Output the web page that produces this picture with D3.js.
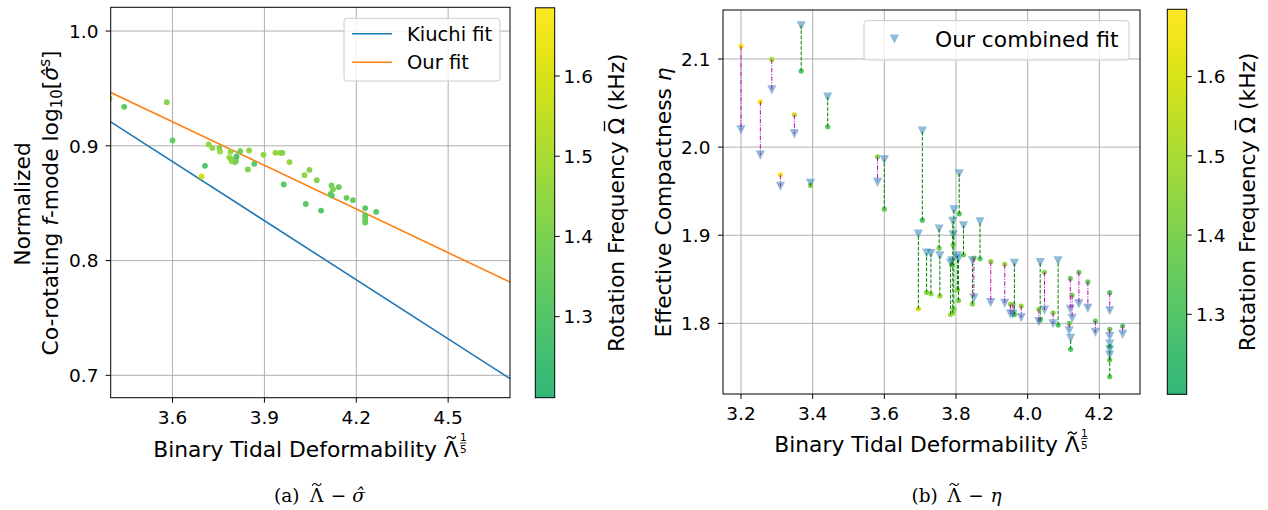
<!DOCTYPE html>
<html><head><meta charset="utf-8">
<script src="https://cdn.jsdelivr.net/npm/d3@7"></script>
<style>
body{margin:0;background:#fff}
svg text{font-family:"DejaVu Sans",sans-serif;fill:#000}
</style></head>
<body>
<svg id="fig" width="1268" height="510"></svg>
<script>
// ---------------- data ----------------
const lambdaX = [3.200,3.254,3.286,3.310,3.349,3.368,3.394,3.442,3.581,3.600,3.695,3.706,3.718,3.730,3.753,3.755,
  3.785,3.789,3.791,3.792,3.794,3.804,3.807,3.809,3.821,3.846,3.850,3.867,3.897,3.936,3.952,3.959,3.963,3.982,
  4.031,4.035,4.047,4.071,4.085,4.116,4.119,4.120,4.124,4.143,4.168,4.189,4.229,4.229,4.229,4.229,4.229,4.265];
const etaMeasured = [2.1146,2.0515,2.0995,1.9686,2.0367,2.0863,1.9565,2.0231,1.989,1.9296,1.8165,1.9171,1.835,1.8335,1.8853,1.831,
  1.810,1.866,1.8115,1.889,1.816,1.838,1.826,1.9243,1.8778,1.822,1.874,1.8733,1.870,1.867,1.8216,1.8216,1.810,1.8196,
  1.816,1.8037,1.858,1.812,1.798,1.800,1.851,1.7705,1.832,1.858,1.847,1.8026,1.8348,1.7932,1.7737,1.7584,1.7394,1.797];
const etaFit = [2.0197,1.991,2.065,1.9554,2.015,2.1377,1.959,2.0568,1.960,1.9856,1.9012,2.0182,1.8797,1.879,1.907,1.8766,
  1.8683,1.871,1.9156,1.9005,1.9288,1.8766,1.873,1.9697,1.9107,1.871,1.8286,1.9153,1.8236,1.8227,1.8105,1.8105,1.868,1.8064,
  1.802,1.8688,1.815,1.7995,1.871,1.7916,1.816,1.783,1.8057,1.822,1.817,1.7898,1.8143,1.785,1.7764,1.770,1.764,1.7875];
const sigmaMeasured = [null,null,null,null,null,null,0.9413,0.934,0.938,0.9047,0.8733,0.8826,0.9012,0.898,0.898,0.895,
  0.890,0.8948,0.888,0.8884,0.8865,0.8858,0.887,0.8907,0.8953,0.8794,0.8959,0.8843,0.8922,0.8939,0.8939,0.8939,0.8663,0.8858,
  0.8744,0.8494,0.879,0.870,0.8436,0.858,0.8654,0.8567,0.8622,0.864,0.8547,0.8526,0.8457,0.8396,0.8375,0.8352,0.8332,0.8425];
const omegaKHz = [1.66,1.66,1.50,1.67,1.56,1.30,1.47,1.33,1.42,1.36,1.58,1.30,1.45,1.45,1.40,1.47,
  1.48,1.45,1.47,1.42,1.45,1.43,1.40,1.30,1.38,1.42,1.45,1.33,1.45,1.45,1.45,1.42,1.32,1.45,
  1.45,1.32,1.42,1.42,1.30,1.38,1.38,1.32,1.40,1.35,1.35,1.35,1.32,1.35,1.35,1.38,1.35,1.32];
const fitLineX = [3.398, 4.702];
const kiuchiFitY = [0.9209, 0.6971];
const ourFitY = [0.9465, 0.7813];
const xTicksA = [3.6, 3.9, 4.2, 4.5];
const yTicksA = [0.7, 0.8, 0.9, 1.0];
const xTicksB = [3.2, 3.4, 3.6, 3.8, 4.0, 4.2];
const yTicksB = [1.8, 1.9, 2.0, 2.1];
const cbarTicks = [1.3, 1.4, 1.5, 1.6];
const omegaRange = [1.199, 1.685];

// ---------------- helpers ----------------
const svg = d3.select("#fig");
const defs = svg.append("defs");
const fmt = d3.format(".1f");
const colorOf = v => d3.interpolateViridis(0.66 + 0.34 * (v - omegaRange[0]) / (omegaRange[1] - omegaRange[0]));
const TICK_FS = 18.5, LABEL_FS = 21.8, GRID = "#b0b0b0";
const tildePath = "M-4.5,1.3C-3.2,-1.6 -1.6,-1.4 0,0S3.2,1.6 4.5,-1.3";

function frame(g, x, y, xt, yt, id, xTickBase, yTickEnd) {
  const [x0, x1] = x.range(), [y0, y1] = y.range();
  defs.append("clipPath").attr("id", id).append("rect")
    .attr("x", x0).attr("y", y1).attr("width", x1 - x0).attr("height", y0 - y1);
  g.append("g").selectAll("line").data(xt).join("line")
    .attr("x1", d => x(d)).attr("x2", d => x(d)).attr("y1", y1).attr("y2", y0)
    .attr("stroke", GRID).attr("stroke-width", 1);
  g.append("g").selectAll("line").data(yt).join("line")
    .attr("x1", x0).attr("x2", x1).attr("y1", d => y(d)).attr("y2", d => y(d))
    .attr("stroke", GRID).attr("stroke-width", 1);
  const ax = g.append("g");
  ax.selectAll("line.tx").data(xt).join("line").attr("class","tx")
    .attr("x1", d => x(d)).attr("x2", d => x(d)).attr("y1", y0).attr("y2", y0 + 5)
    .attr("stroke", "#000").attr("stroke-width", 1);
  ax.selectAll("text.tx").data(xt).join("text").attr("class","tx")
    .attr("x", d => x(d)).attr("y", xTickBase).attr("text-anchor", "middle")
    .attr("font-size", TICK_FS).text(fmt);
  ax.selectAll("line.ty").data(yt).join("line").attr("class","ty")
    .attr("x1", x0 - 5).attr("x2", x0).attr("y1", d => y(d)).attr("y2", d => y(d))
    .attr("stroke", "#000").attr("stroke-width", 1);
  ax.selectAll("text.ty").data(yt).join("text").attr("class","ty")
    .attr("x", yTickEnd).attr("y", d => y(d) + 6.7).attr("text-anchor", "end")
    .attr("font-size", TICK_FS).text(fmt);
}
function spines(g, x, y) {
  const [x0, x1] = x.range(), [y0, y1] = y.range();
  g.append("rect").attr("x", x0).attr("y", y1).attr("width", x1 - x0).attr("height", y0 - y1)
    .attr("fill", "none").attr("stroke", "#000").attr("stroke-width", 1);
}
function colorbar(g, x0, x1, yScale, id, labelX, tickTextX) {
  const [yb, yt] = yScale.range();
  const grad = defs.append("linearGradient").attr("id", id)
    .attr("x1", 0).attr("y1", 1).attr("x2", 0).attr("y2", 0);
  d3.range(0, 1.0001, 0.05).forEach(t => {
    grad.append("stop").attr("offset", t)
      .attr("stop-color", colorOf(omegaRange[0] + t * (omegaRange[1] - omegaRange[0])));
  });
  g.append("rect").attr("x", x0).attr("y", yt).attr("width", x1 - x0).attr("height", yb - yt)
    .attr("fill", `url(#${id})`).attr("stroke", "#000").attr("stroke-width", 1);
  g.selectAll("line.cb").data(cbarTicks).join("line").attr("class","cb")
    .attr("x1", x1).attr("x2", x1 + 5).attr("y1", d => yScale(d)).attr("y2", d => yScale(d))
    .attr("stroke", "#000");
  g.selectAll("text.cb").data(cbarTicks).join("text").attr("class","cb")
    .attr("x", tickTextX).attr("y", d => yScale(d) + 6.7).attr("font-size", TICK_FS).text(fmt);
  const lg = g.append("g").attr("transform", `translate(${labelX},${(yb + yt) / 2}) rotate(-90)`);
  const t = lg.append("text").attr("text-anchor", "middle").attr("font-size", LABEL_FS)
    .text("Rotation Frequency \u03A9 (kHz)");
  const n = t.node();
  const w = n.getComputedTextLength();
  const pre = n.getSubStringLength(0, 19), om = n.getSubStringLength(19, 1);
  const cx = -w / 2 + pre + om / 2;
  lg.append("line").attr("x1", cx - 5).attr("x2", cx + 5).attr("y1", -19.5).attr("y2", -19.5)
    .attr("stroke", "#000").attr("stroke-width", 1.4);
}
function xLabel(g, cx, base) {
  const t = g.append("text").attr("y", base).attr("font-size", LABEL_FS)
    .text("Binary Tidal Deformability \u039B");
  const n = t.node();
  const w = n.getComputedTextLength();
  const lw = n.getSubStringLength(27, 1);
  const fw = 7;
  const x0 = cx - (w + fw + 1) / 2;
  t.attr("x", x0);
  g.append("path").attr("transform", `translate(${x0 + w - lw / 2},${base - 19})`).attr("d", tildePath)
    .attr("fill", "none").attr("stroke", "#000").attr("stroke-width", 1.3);
  const fx = x0 + w + 1 + fw / 2;
  g.append("text").attr("x", fx).attr("y", base - 15.5).attr("text-anchor", "middle").attr("font-size", 10.5).text("1");
  g.append("line").attr("x1", fx - 3.2).attr("x2", fx + 3.2).attr("y1", base - 13.5).attr("y2", base - 13.5)
    .attr("stroke", "#000").attr("stroke-width", 0.8);
  g.append("text").attr("x", fx).attr("y", base - 3.5).attr("text-anchor", "middle").attr("font-size", 10.5).text("5");
}
function caption(g, cx, tag, sym) {
  const serif = "'DejaVu Serif', serif", y = 501.5, fs = 18.5;
  g.append("text").attr("x", cx - 45.5).attr("y", y).attr("font-size", fs).style("font-family", serif).text(tag);
  g.append("text").attr("x", cx - 2.8).attr("y", y).attr("text-anchor", "middle").attr("font-size", fs)
    .style("font-family", serif).text("\u039B");
  g.append("path").attr("transform", `translate(${cx - 2.8},${y - 17})`).attr("d", tildePath)
    .attr("fill", "none").attr("stroke", "#000").attr("stroke-width", 1.1);
  g.append("text").attr("x", cx + 19).attr("y", y).attr("text-anchor", "middle").attr("font-size", fs)
    .style("font-family", serif).text("\u2212");
  g.append("text").attr("x", cx + 39).attr("y", y).attr("text-anchor", "middle").attr("font-size", fs)
    .style("font-family", serif).attr("font-style", "italic").text(sym);
}

// ---------------- panel (a) ----------------
const xA = d3.scaleLinear().domain([3.398, 4.702]).range([110.7, 510]);
const yA = d3.scaleLinear().domain([0.6805, 1.0207]).range([397.7, 7.3]);
const gA = svg.append("g");
frame(gA, xA, yA, xTicksA, yTicksA, "clipA", 423.5, 98.5);
const plotA = gA.append("g").attr("clip-path", "url(#clipA)");
const lineGen = d3.line().x(d => xA(d[0])).y(d => yA(d[1]));
plotA.append("path").datum(fitLineX.map((v, i) => [v, kiuchiFitY[i]])).attr("d", lineGen)
  .attr("stroke", "#1f77b4").attr("stroke-width", 1.6).attr("fill", "none");
plotA.append("path").datum(fitLineX.map((v, i) => [v, ourFitY[i]])).attr("d", lineGen)
  .attr("stroke", "#ff7f0e").attr("stroke-width", 1.6).attr("fill", "none");
const ptsA = lambdaX.map((x, i) => ({x, s: sigmaMeasured[i], o: omegaKHz[i]})).filter(d => d.s !== null);
plotA.selectAll("circle").data(ptsA).join("circle")
  .attr("cx", d => xA(d.x)).attr("cy", d => yA(d.s)).attr("r", 2.9)
  .attr("fill", d => colorOf(d.o));
spines(gA, xA, yA);
const legA = gA.append("g");
legA.append("rect").attr("x", 344).attr("y", 18.3).attr("width", 156).attr("height", 62.7).attr("rx", 3)
  .attr("fill", "#fff").attr("fill-opacity", 0.8).attr("stroke", "#cccccc");
[["Kiuchi fit", "#1f77b4", 33.7], ["Our fit", "#ff7f0e", 62.3]].forEach(([t, c, y]) => {
  legA.append("line").attr("x1", 352).attr("x2", 392).attr("y1", y).attr("y2", y)
    .attr("stroke", c).attr("stroke-width", 1.6);
  legA.append("text").attr("x", 407).attr("y", y + 7).attr("font-size", 19.5).text(t);
});
xLabel(gA, 310, 456.5);
gA.append("text").attr("transform", "translate(29.5,204) rotate(-90)").attr("text-anchor", "middle")
  .attr("font-size", LABEL_FS).text("Normalized");
const yl = gA.append("text").attr("transform", "translate(57.5,203) rotate(-90)").attr("text-anchor", "middle")
  .attr("font-size", LABEL_FS);
yl.append("tspan").text("Co-rotating  ");
yl.append("tspan").attr("font-style", "italic").text("f");
yl.append("tspan").text("-mode log");
yl.append("tspan").attr("font-size", 15).attr("dy", 4).text("10");
yl.append("tspan").attr("dy", -4).text("[");
yl.append("tspan").attr("font-style", "italic").text("\u03C3\u0302");
yl.append("tspan").attr("font-size", 15).attr("dy", -8).text("s");
yl.append("tspan").attr("dy", 8).text("]");
const cA = d3.scaleLinear().domain(omegaRange).range([397.7, 7.8]);
colorbar(gA, 535.3, 554.7, cA, "gradA", 624, 563.5);
caption(gA, 319.5, "(a)", "\u03C3\u0302");

// ---------------- panel (b) ----------------
const xB = d3.scaleLinear().domain([3.1498, 4.3135]).range([723, 1140]);
const yB = d3.scaleLinear().domain([1.7198, 2.1556]).range([394, 10]);
const gB = svg.append("g");
frame(gB, xB, yB, xTicksB, yTicksB, "clipB", 419.5, 710.5);
const plotB = gB.append("g").attr("clip-path", "url(#clipB)");
const ptsB = lambdaX.map((x, i) => ({x, e: etaMeasured[i], f: etaFit[i], o: omegaKHz[i]}));
plotB.selectAll("circle").data(ptsB).join("circle")
  .attr("cx", d => xB(d.x)).attr("cy", d => yB(d.e)).attr("r", 2.6)
  .attr("fill", d => colorOf(d.o));
const tri = "M-4.6,-4.6L4.6,-4.6L0,4.6Z";
plotB.selectAll("path.tri").data(ptsB).join("path").attr("class", "tri")
  .attr("transform", d => `translate(${xB(d.x)},${yB(d.f)})`).attr("d", tri)
  .attr("fill", "#1f77b4").attr("fill-opacity", 0.5);
plotB.selectAll("line.res").data(ptsB).join("line").attr("class", "res")
  .attr("x1", d => xB(d.x)).attr("x2", d => xB(d.x))
  .attr("y1", d => yB(d.e)).attr("y2", d => yB(d.f))
  .attr("stroke", d => d.e > d.f ? "#bf00bf" : "#008000").attr("stroke-width", 1)
  .attr("stroke-dasharray", d => d.e > d.f ? "4.5,1.5,1,1.5" : "3.7,1.6");
spines(gB, xB, yB);
const legB = gB.append("g");
legB.append("rect").attr("x", 864).attr("y", 20.7).attr("width", 265).attr("height", 39.3).attr("rx", 3)
  .attr("fill", "#fff").attr("fill-opacity", 0.8).attr("stroke", "#cccccc");
legB.append("path").attr("transform", "translate(894.4,39)").attr("d", tri)
  .attr("fill", "#1f77b4").attr("fill-opacity", 0.5);
legB.append("text").attr("x", 935).attr("y", 47).attr("font-size", 21.8).text("Our combined fit");
xLabel(gB, 931, 452);
const ylB = gB.append("text").attr("transform", "translate(670.5,202.5) rotate(-90)").attr("text-anchor", "middle")
  .attr("font-size", LABEL_FS);
ylB.append("tspan").text("Effective Compactness ");
ylB.append("tspan").attr("font-style", "italic").text("\u03B7");
const cB = d3.scaleLinear().domain(omegaRange).range([394.3, 9.3]);
colorbar(gB, 1167.3, 1186.7, cB, "gradB", 1255, 1196);
caption(gB, 957, "(b)", "\u03B7");
</script>
</body></html>
